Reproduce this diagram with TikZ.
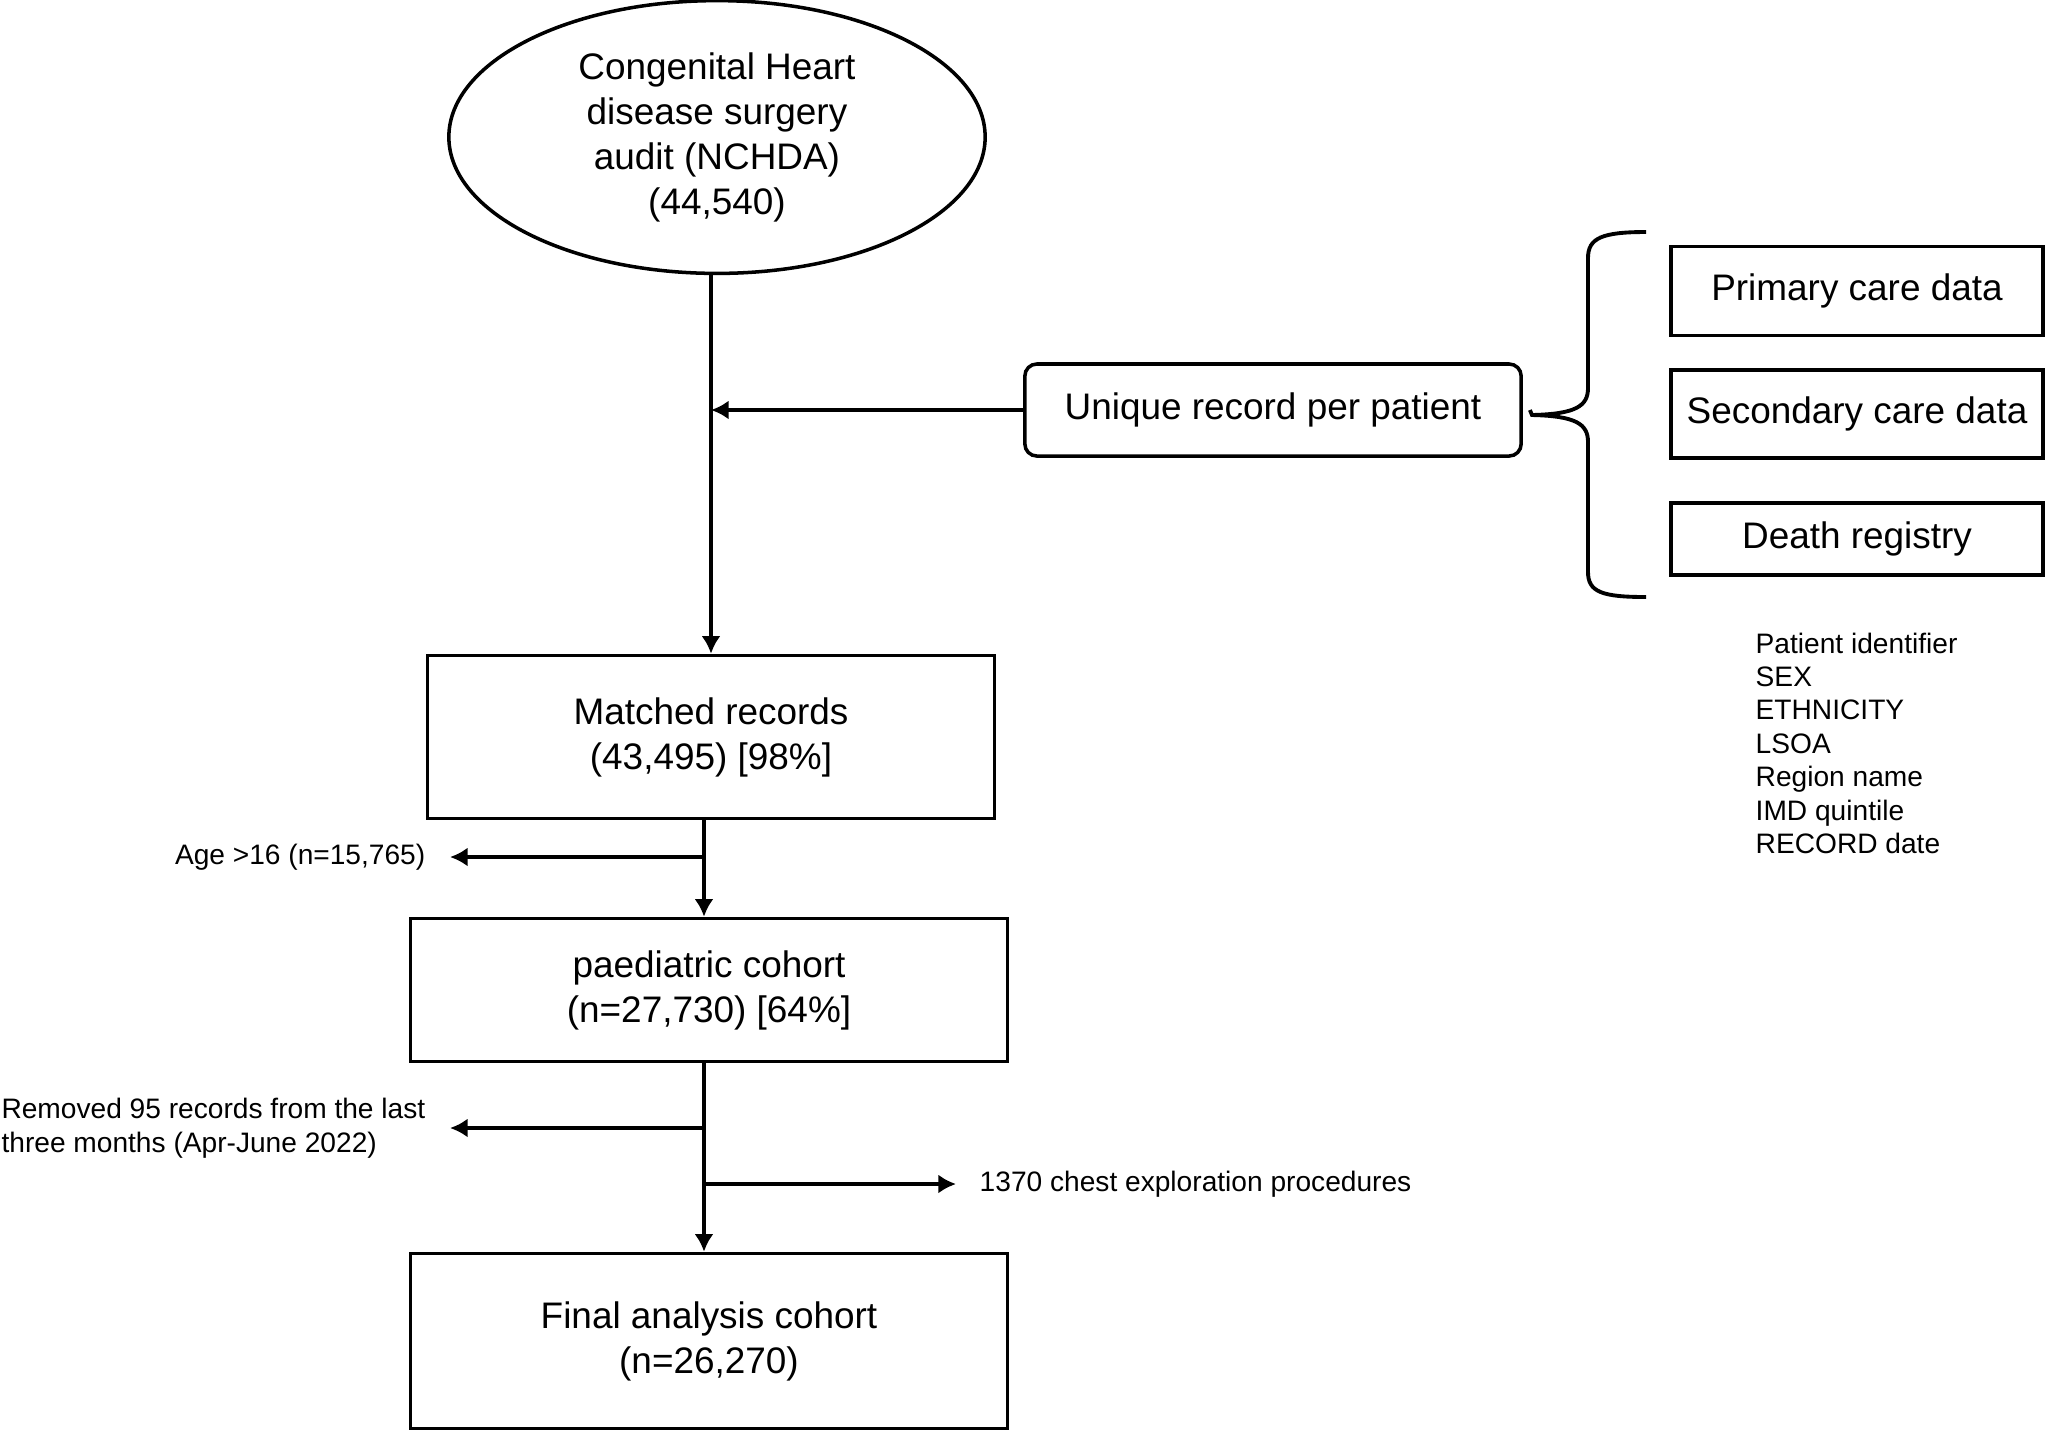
\documentclass[tikz,border=0pt]{standalone}
\usepackage{fontspec}
\setmainfont{Liberation Sans}
\usetikzlibrary{shapes.geometric}
\usetikzlibrary{positioning}
\usetikzlibrary{arrows.meta}
\tikzset{>={Latex[length=5pt, width=5.4pt]}}
\tikzset{
    flowbox/.style={draw, line width=1pt, align=center, font=\fontsize{10.5}{12.8}\selectfont},
    sidenote/.style={align=left, inner sep=0pt, font=\fontsize{8}{9.5}\selectfont},
    flowline/.style={line width=1.1pt}
}

\begin{document}
\begin{tikzpicture}[x=0.01cm, y=-0.01cm]
    \useasboundingbox(0, 0)rectangle(2045, 1429);
    % main column
    \node[flowbox, ellipse, minimum width=5.36cm, minimum height=2.64cm](nchda) at(717, 137){Congenital Heart\\disease surgery\\audit (NCHDA)\\(44,540)};
    \node[flowbox, minimum width=5.67cm, minimum height=1.63cm](matched) at(711, 737){Matched records\\(43,495) [98\%]};
    \node[flowbox, minimum width=5.97cm, minimum height=1.43cm](paed) at(709, 990){paediatric cohort\\(n=27,730) [64\%]};
    \node[flowbox, minimum width=5.97cm, minimum height=1.75cm](final) at(709, 1341){Final analysis cohort\\(n=26,270)};
    % linkage
    \node[flowbox, rounded corners=0.12cm, minimum width=4.96cm, minimum height=0.92cm](unique) at(1273, 410){Unique record per patient};
    \node[flowbox, minimum width=3.72cm, minimum height=0.89cm](primary) at(1857, 291){Primary care data};
    \node[flowbox, minimum width=3.72cm, minimum height=0.88cm](secondary) at(1857, 414){Secondary care data};
    \node[flowbox, minimum width=3.72cm, minimum height=0.72cm](death) at(1857, 539){Death registry};
    \node[sidenote, anchor=north west](fields) at(1755, 632){Patient identifier\\SEX\\ETHNICITY\\LSOA\\Region name\\IMD quintile\\RECORD date};
    % brace
    \coordinate(bracetip) at(1532, 415);
    \draw[flowline]([xshift=0.07cm]unique.east)--(bracetip)
        .. controls(1576, 414) and (1588, 406) .. (1588, 388)--(1588, 258)
        .. controls(1588, 238) and (1602, 232) .. (1646, 232);
    \draw[flowline](bracetip)
        .. controls(1576, 416) and (1588, 424) .. (1588, 442)--(1588, 572)
        .. controls(1588, 592) and (1602, 597) .. (1646, 597);
    % arrows
    \coordinate(agefork) at(704, 857);
    \coordinate(ageend) at(450, 857);
    \coordinate(cutfork) at(704, 1128);
    \coordinate(cutend) at(450, 1128);
    \coordinate(chestfork) at(704, 1184);
    \coordinate(chestend) at(956, 1184);
    \draw[flowline, ->](nchda.south -| matched.north)--(matched.north);
    \draw[flowline, ->](unique.west)--(unique.west -| matched.north);
    \draw[flowline, ->](matched.south -| agefork)--(paed.north -| agefork);
    \draw[flowline, ->](paed.south -| cutfork)--(final.north -| cutfork);
    \draw[flowline, ->](agefork)--(ageend);
    \draw[flowline, ->](cutfork)--(cutend);
    \draw[flowline, ->](chestfork)--(chestend);
    \node[sidenote, left=0.24cm of ageend](agetxt){Age >16 (n=15,765)};
    \node[sidenote, left=0.24cm of cutend](cuttxt){Removed 95 records from the last\\three months (Apr-June 2022)};
    \node[sidenote, right=0.23cm of chestend](chesttxt){1370 chest exploration procedures};
\end{tikzpicture}
\end{document}
